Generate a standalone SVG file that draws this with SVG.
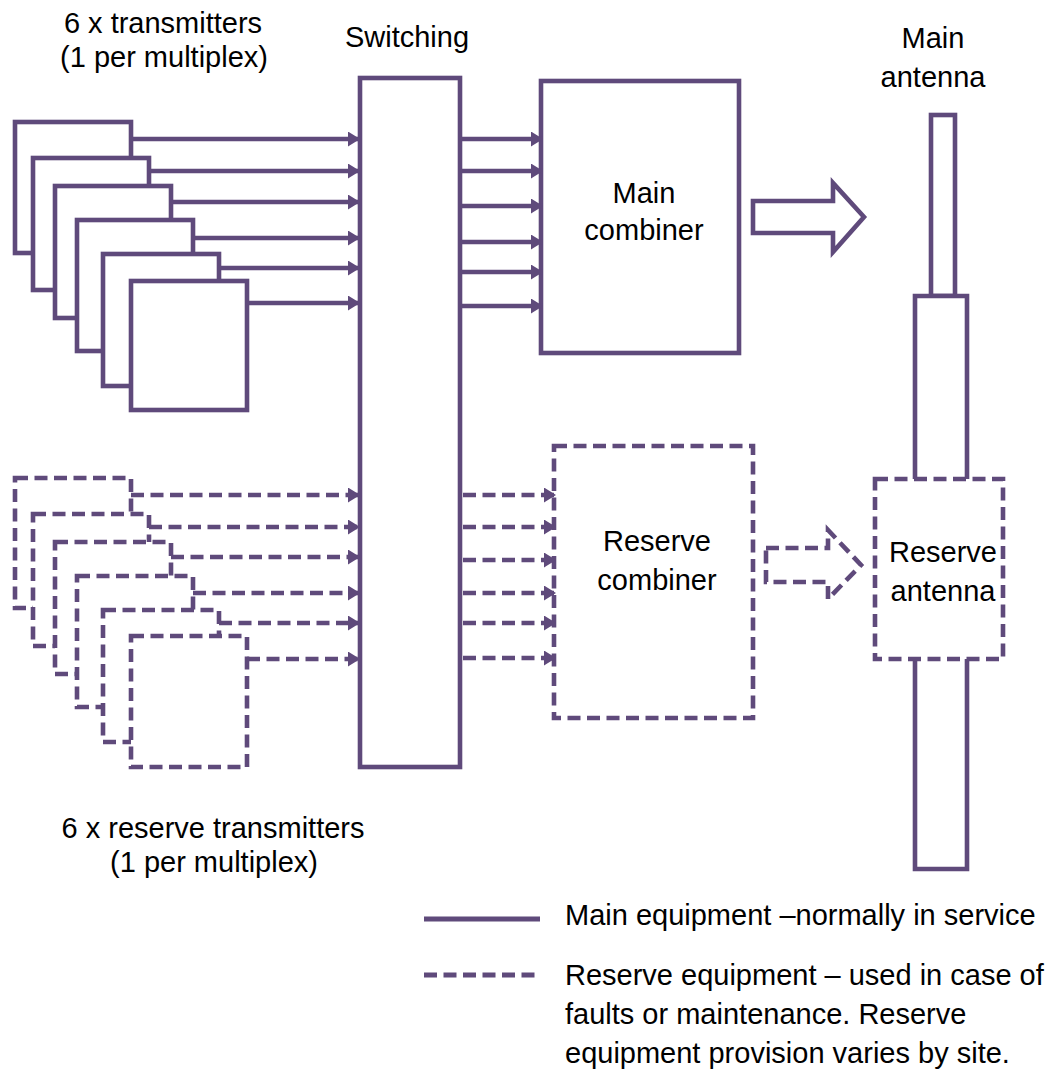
<svg xmlns="http://www.w3.org/2000/svg" width="1053" height="1071" viewBox="0 0 1053 1071">
<style>
.s{fill:#fff;stroke:#5f4a7b;stroke-width:4.6}
.d{fill:#fff;stroke:#5f4a7b;stroke-width:4.6;stroke-dasharray:13 6.5}
.l{fill:none;stroke:#5f4a7b;stroke-width:4.6}
.ld{fill:none;stroke:#5f4a7b;stroke-width:4.6;stroke-dasharray:13 6.5}
.t{font-family:"Liberation Sans",Arial,sans-serif;font-size:29px;fill:#000;text-anchor:middle}
.tl{font-family:"Liberation Sans",Arial,sans-serif;font-size:29px;fill:#000}
</style>
<defs>
<marker id="ah" viewBox="0 0 12 15" refX="12" refY="7.5" markerWidth="12" markerHeight="15" markerUnits="userSpaceOnUse" orient="auto">
<path d="M0,0 L12,7.5 L0,15 z" fill="#5f4a7b"/>
</marker>
</defs>

<g id="labels">
<text class="t" x="163" y="33">6 x transmitters</text>
<text class="t" x="164" y="67">(1 per multiplex)</text>
<text class="t" x="407" y="47">Switching</text>
<text class="t" x="933" y="48">Main</text>
<text class="t" x="933" y="87">antenna</text>
<text class="t" x="213" y="838">6 x reserve transmitters</text>
<text class="t" x="214" y="872">(1 per multiplex)</text>
</g>

<g id="main-transmitters">
<rect class="s" x="15" y="122" width="116" height="131"/>
<rect class="s" x="33" y="158" width="116" height="132"/>
<rect class="s" x="55" y="186" width="116" height="132"/>
<rect class="s" x="77" y="220" width="116" height="131"/>
<rect class="s" x="103" y="254" width="116" height="132"/>
<rect class="s" x="131" y="281" width="116" height="129"/>
</g>

<g id="reserve-transmitters">
<rect class="d" x="15" y="478" width="116" height="130"/>
<rect class="d" x="33" y="514" width="116" height="132"/>
<rect class="d" x="55" y="542" width="116" height="132"/>
<rect class="d" x="77" y="576" width="116" height="131"/>
<rect class="d" x="103" y="610" width="116" height="132"/>
<rect class="d" x="131" y="636" width="116" height="131"/>
</g>

<g id="switching">
<rect class="s" x="360" y="78" width="100" height="689"/>
</g>

<g id="main-combiner">
<rect class="s" x="541" y="81" width="198" height="272"/>
<text class="t" x="644" y="203">Main</text>
<text class="t" x="644" y="240">combiner</text>
</g>

<g id="reserve-combiner">
<rect class="d" x="554" y="446" width="199" height="272"/>
<text class="t" x="657" y="551">Reserve</text>
<text class="t" x="657" y="590">combiner</text>
</g>

<g id="main-antenna">
<rect class="s" x="931" y="115" width="24" height="181"/>
<path class="s" d="M915,479 V296 H967 V479"/>
<path class="s" d="M915,659 V869 H967 V659"/>
</g>

<g id="reserve-antenna">
<rect class="d" x="875" y="479" width="128" height="180"/>
<text class="t" x="943" y="562">Reserve</text>
<text class="t" x="943" y="601">antenna</text>
</g>

<g id="connectors">
<path class="l" marker-end="url(#ah)" d="M131,139 H360"/>
<path class="l" marker-end="url(#ah)" d="M149,171 H360"/>
<path class="l" marker-end="url(#ah)" d="M171,202 H360"/>
<path class="l" marker-end="url(#ah)" d="M193,238 H360"/>
<path class="l" marker-end="url(#ah)" d="M219,268 H360"/>
<path class="l" marker-end="url(#ah)" d="M247,303 H360"/>

<path class="ld" marker-end="url(#ah)" d="M131,495 H360"/>
<path class="ld" marker-end="url(#ah)" d="M149,527 H360"/>
<path class="ld" marker-end="url(#ah)" d="M171,557 H360"/>
<path class="ld" marker-end="url(#ah)" d="M193,593 H360"/>
<path class="ld" marker-end="url(#ah)" d="M219,623 H360"/>
<path class="ld" marker-end="url(#ah)" d="M247,659 H360"/>

<path class="l" marker-end="url(#ah)" d="M460,139 H543"/>
<path class="l" marker-end="url(#ah)" d="M460,171 H543"/>
<path class="l" marker-end="url(#ah)" d="M460,206 H543"/>
<path class="l" marker-end="url(#ah)" d="M460,242 H543"/>
<path class="l" marker-end="url(#ah)" d="M460,272 H543"/>
<path class="l" marker-end="url(#ah)" d="M460,306 H543"/>

<path class="ld" marker-end="url(#ah)" d="M463,495 H556"/>
<path class="ld" marker-end="url(#ah)" d="M463,527 H556"/>
<path class="ld" marker-end="url(#ah)" d="M463,560 H556"/>
<path class="ld" marker-end="url(#ah)" d="M463,593 H556"/>
<path class="ld" marker-end="url(#ah)" d="M463,623 H556"/>
<path class="ld" marker-end="url(#ah)" d="M463,658 H556"/>

<polygon class="s" points="753,201 833,201 833,183 864,217 833,252 833,233 753,233"/>
<polygon class="d" points="766,548 828,548 828,530 861,565 828,599 828,582 766,582"/>
</g>

<g id="legend">
<path d="M424,919 H540" fill="none" stroke="#5f4a7b" stroke-width="5"/>
<path d="M424,975 H540" fill="none" stroke="#5f4a7b" stroke-width="5" stroke-dasharray="13 6.5"/>
<text class="tl" x="565" y="925">Main equipment –normally in service</text>
<text class="tl" x="565" y="985">Reserve equipment – used in case of</text>
<text class="tl" x="565" y="1024">faults or maintenance. Reserve</text>
<text class="tl" x="565" y="1063">equipment provision varies by site.</text>
</g>
</svg>
